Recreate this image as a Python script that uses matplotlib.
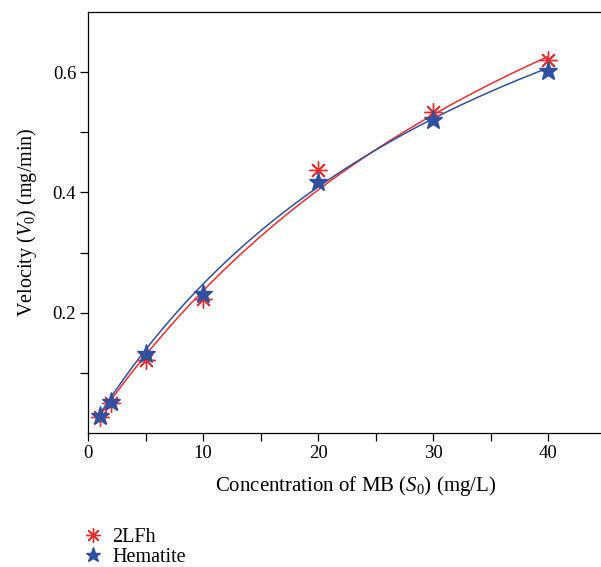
import numpy as np
import matplotlib
matplotlib.use('Agg')
import matplotlib.pyplot as plt

plt.rcParams['font.family'] = ['Liberation Serif', 'DejaVu Serif']
plt.rcParams['mathtext.fontset'] = 'custom'
plt.rcParams['mathtext.rm'] = 'Liberation Serif'
plt.rcParams['mathtext.it'] = 'Liberation Serif:italic'

# concentrazioni MB (mg/L)
conc = [1, 2, 5, 10, 20, 30, 40]
v_2lfh = [0.027, 0.050, 0.122, 0.222, 0.437, 0.534, 0.621]
v_hem = [0.029, 0.052, 0.132, 0.231, 0.418, 0.521, 0.602]

# parametri Michaelis-Menten
VMAX_2LFH, KM_2LFH = 1.388, 48.7
VMAX_HEM, KM_HEM = 1.176, 37.5

RED = '#ee2b2b'
BLUE = '#2f4f9f'

fig = plt.figure(figsize=(6.01, 5.67), dpi=100)
ax = fig.add_axes([88/601, 1 - 433/567, 1 - 88/601, (433 - 12)/567])

s = np.linspace(1, 40, 200)
ax.plot(s, VMAX_2LFH*s/(KM_2LFH + s), color=RED, lw=1.1)
ax.plot(s, VMAX_HEM*s/(KM_HEM + s), color=BLUE, lw=1.1)

ax.plot(conc, v_2lfh, ls='none', marker=(8, 2, 0), ms=13, mew=1.0,
        color=RED, label='2LFh')
ax.plot(conc, v_hem, ls='none', marker='*', ms=14, color=BLUE,
        mec=BLUE, label='Hematite')

ax.set_xlim(0, 44.6)
ax.set_ylim(0.0, 0.70)
ax.set_xticks([0, 10, 20, 30, 40])
ax.set_xticks([5, 15, 25, 35], minor=True)
ax.set_yticks([0.2, 0.4, 0.6])
ax.set_yticks([0.1, 0.3, 0.5], minor=True)
ax.tick_params(which='both', direction='out', labelsize=13.5, width=0.9,
               length=6, pad=2.5)
ax.spines['right'].set_visible(False)
for sp in ['left', 'bottom', 'top']:
    ax.spines[sp].set_linewidth(0.9)

ax.set_xlabel('Concentration of MB ($S_0$) (mg/L)', fontsize=15, labelpad=10)
ax.xaxis.set_label_coords(0.522, -0.098)
ax.set_ylabel('Velocity ($V_0$) (mg/min)', fontsize=14.5, labelpad=10)

fig.legend(loc='upper left', bbox_to_anchor=(0.125, 1 - 520/567),
           frameon=False, fontsize=14.5, handlelength=1.0, handletextpad=0.45,
           labelspacing=0.05, borderaxespad=0, markerscale=0.8)

fig.savefig('out.png', dpi=100)
